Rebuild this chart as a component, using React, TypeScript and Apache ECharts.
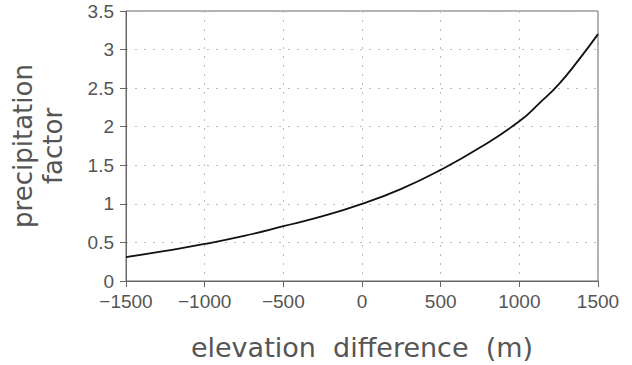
import React, { useEffect, useRef } from "react";
import * as echarts from "echarts";

const elevation = [-1500, -1250, -1000, -750, -500, -250, 0, 250, 500, 750, 1000, 1125, 1250, 1375, 1500];
const factor = [0.31, 0.39, 0.48, 0.585, 0.71, 0.84, 1.0, 1.195, 1.44, 1.73, 2.07, 2.3, 2.55, 2.86, 3.2];
const xTitle = "elevation  difference  (m)";
const yTitle = "precipitation\nfactor";

const FONT = "Liberation Sans";
const TFONT = "DejaVu Sans";
const TXT = "#555";

export default function App() {
  const ref = useRef<HTMLDivElement>(null);
  useEffect(() => {
    const chart = echarts.init(ref.current!, null, { renderer: "svg" });
    const data = elevation.map((x, i) => [x, factor[i]]);
    chart.setOption({
      animation: false,
      backgroundColor: "#fff",
      grid: {
        left: 126,
        right: 34,
        top: 11,
        bottom: 84,
        outerBoundsMode: "none",
        containLabel: false,
        show: true,
        borderColor: "#666",
        borderWidth: 1,
        backgroundColor: "transparent",
      },
      xAxis: {
        type: "value",
        min: -1500,
        max: 1500,
        interval: 500,
        name: xTitle,
        nameLocation: "middle",
        nameGap: 53,
        nameTextStyle: { fontFamily: TFONT, fontSize: 27, color: TXT },
        axisLine: { show: true, onZero: false, lineStyle: { color: "#666", width: 1 } },
        axisTick: { show: true, inside: false, length: 6, lineStyle: { color: "#666" } },
        axisLabel: {
          fontFamily: FONT,
          fontSize: 19,
          color: TXT,
          margin: 11,
          formatter: (v: number) => String(v).replace("-", "\u2212"),
        },
        splitLine: { show: true, lineStyle: { color: "#bbb", type: [2, 7], width: 1 } },
      },
      yAxis: {
        type: "value",
        min: 0,
        max: 3.5,
        interval: 0.5,
        name: yTitle,
        nameLocation: "middle",
        nameGap: 58,
        nameRotate: 90,
        nameTextStyle: { fontFamily: TFONT, fontSize: 26, color: TXT, lineHeight: 30 },
        axisLine: { show: true, onZero: false, lineStyle: { color: "#666", width: 1 } },
        axisTick: { show: true, inside: false, length: 6, lineStyle: { color: "#666" } },
        axisLabel: { fontFamily: FONT, fontSize: 19, color: TXT, margin: 12 },
        splitLine: { show: true, lineStyle: { color: "#bbb", type: [2, 7], width: 1 } },
      },
      series: [
        {
          type: "line",
          data,
          smooth: true,
          showSymbol: false,
          symbol: "none",
          lineStyle: { color: "#111", width: 1.8 },
        },
      ],
    });
    return () => chart.dispose();
  }, []);
  return (
    <div
      ref={ref}
      style={{ position: "absolute", left: 0, top: 0, width: 632, height: 365, background: "#fff" }}
    />
  );
}
